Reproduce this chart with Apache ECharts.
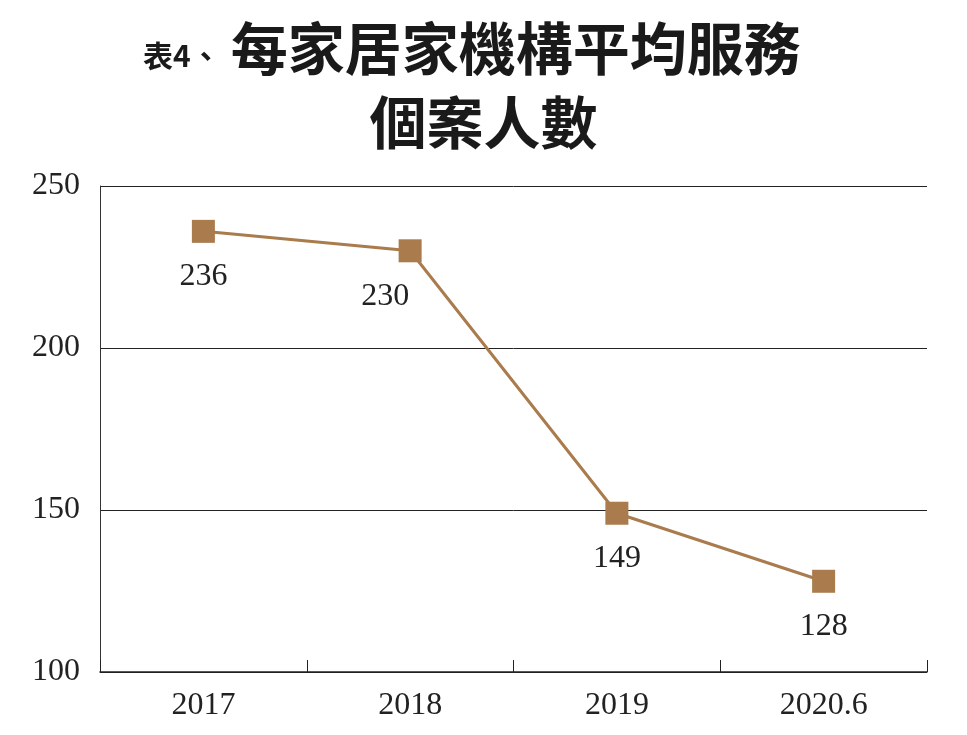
<!DOCTYPE html>
<html>
<head>
<meta charset="utf-8">
<script src="https://cdn.jsdelivr.net/npm/echarts@6/dist/echarts.min.js"></script>
<style>
  html, body { margin: 0; padding: 0; background: #fff; }
  #chart { width: 967px; height: 735px; }
</style>
</head>
<body>
<div id="chart"></div>
<script>
const years = ['2017', '2018', '2019', '2020.6'];
const caseCounts = [236, 230, 149, 128];
const yTicks = { min: 100, max: 250, step: 50 };

const serif = '"Liberation Serif", "DejaVu Serif", serif';
const cjk = '"Noto Sans CJK TC", "Noto Sans CJK SC", sans-serif';
const brown = '#A97B4D';

const chart = echarts.init(document.getElementById('chart'));

chart.setOption({
  animation: false,
  backgroundColor: '#fff',
  title: [
    {
      left: 138,
      top: 15,
      text: '{s|表4、}{b|每家居家機構平均服務}',
      textStyle: {
        rich: {
          s: { fontFamily: cjk, fontWeight: 'bold', fontSize: 30, color: '#1a1a1a', padding: [14, 10, 0, 0] },
          b: { fontFamily: cjk, fontWeight: 'bold', fontSize: 57, color: '#1a1a1a' }
        }
      }
    },
    {
      left: 'center',
      top: 89,
      text: '個案人數',
      textStyle: { fontFamily: cjk, fontWeight: 'bold', fontSize: 57, color: '#1a1a1a' }
    }
  ],
  grid: { left: 100, right: 40, top: 186, bottom: 63 },
  xAxis: {
    type: 'category',
    data: years,
    boundaryGap: true,
    axisLine: { lineStyle: { color: '#222', width: 1.5 } },
    axisTick: { show: true, inside: true, length: 12, interval: 0, lineStyle: { color: '#222' } },
    axisLabel: { fontFamily: serif, fontSize: 32, color: '#222', margin: 18 }
  },
  yAxis: {
    type: 'value',
    min: yTicks.min,
    max: yTicks.max,
    interval: yTicks.step,
    axisLine: { show: true, lineStyle: { color: '#333', width: 1 } },
    axisTick: { show: false },
    axisLabel: { fontFamily: serif, fontSize: 32, color: '#222', margin: 20 },
    splitLine: { lineStyle: { color: '#222', width: 1 } }
  },
  series: [{
    type: 'line',
    data: caseCounts,
    symbol: 'rect',
    symbolSize: 23,
    lineStyle: { color: brown, width: 3 },
    itemStyle: { color: brown },
    label: {
      show: true,
      position: 'bottom',
      distance: 18,
      fontFamily: serif,
      fontSize: 32,
      color: '#222'
    },
    labelLayout: (params) => params.dataIndex === 1 ? { dx: -25 } : {}
  }]
});
</script>
</body>
</html>
